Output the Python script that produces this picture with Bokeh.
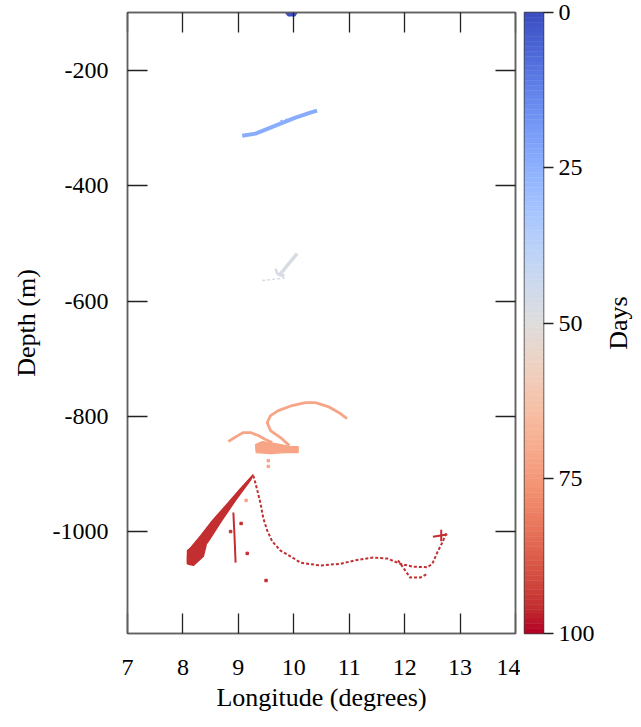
import numpy as np
from bokeh.plotting import figure
from bokeh.layouts import row
from bokeh.models import Range1d, LinearAxis, FixedTicker, LinearColorMapper, ColumnDataSource
from bokeh.transform import transform
from bokeh.embed import file_html
from bokeh.resources import INLINE

# ---------------- data ----------------
x_ticks = [7, 8, 9, 10, 11, 12, 13, 14]
y_ticks = [-1000, -800, -600, -400, -200]
cbar_ticks = [0, 25, 50, 75, 100]
day_values = [0, 24, 48, 72, 96]

# day 0 (surface blob)
lon_d0 = [9.85, 10.06, 10.02, 9.90]
dep_d0 = [-99, -99, -105, -105]

# day 24
lon_d24_band = [9.07, 9.31, 9.49, 9.76, 10.03, 10.30, 10.42]
dep_d24_band = [-312.8, -309.3, -302.4, -292.0, -281.6, -272.9, -269.4]
lon_d24_top = [9.76, 9.90, 10.08, 10.26]
dep_d24_top = [-287.0, -284.0, -280.0, -274.0]

# day 48
lon_d48_a = [10.06, 9.97, 9.88, 9.81, 9.74, 9.83]
dep_d48_a = [-517.6, -528.0, -538.4, -547.1, -554.0, -555.8]
lon_d48_hook = [9.67, 9.70, 9.77]
dep_d48_hook = [-543.6, -552.3, -555.8]
lon_d48_base = [9.43, 9.58, 9.72, 9.86]
dep_d48_base = [-564.4, -562.7, -561.0, -559.2]

# day 72
lon_d72_arch = [9.92, 9.76, 9.58, 9.52, 9.58, 9.72, 9.97, 10.21, 10.39, 10.62, 10.84, 10.96]
dep_d72_arch = [-850.8, -836.9, -824.7, -810.9, -798.7, -790.0, -781.3, -776.2, -776.2, -783.1, -795.2, -803.9]
lon_d72_left = [8.82, 8.96, 9.09, 9.22, 9.36, 9.49, 9.61]
dep_d72_left = [-843.8, -835.2, -828.2, -828.2, -833.4, -840.4, -845.6]
lon_d72_blob = [9.31, 9.43, 9.67, 9.94, 10.08, 10.08, 9.85, 9.58, 9.32]
dep_d72_blob = [-849.0, -843.8, -847.3, -852.5, -852.5, -862.9, -862.9, -864.7, -862.9]
lon_d72_dots = [9.54, 9.54, 9.14]
dep_d72_dots = [-877.0, -887.0, -946.0]

# day 96
lon_d96_band = [9.27, 9.04, 8.77, 8.53, 8.32, 8.14, 8.08, 8.08, 8.14, 8.24, 8.46, 8.68, 8.95, 9.22]
dep_d96_band = [-901, -925, -955, -981, -1007, -1028, -1042, -1056, -1058, -1045, -1017, -984, -946, -911]
lon_d96_mid = [9.25, 8.98, 8.71, 8.50, 8.28]
dep_d96_mid = [-906, -939, -971, -998, -1026]
lon_d96_blob = [8.08, 8.26, 8.42, 8.37, 8.19, 8.08]
dep_d96_blob = [-1033, -1019, -1024, -1043, -1059, -1056]
lon_d96_vert = [8.91, 8.93, 8.95]
dep_d96_vert = [-967, -1007, -1054]
lon_d96_curve = [9.27, 9.32, 9.40, 9.45, 9.52, 9.61, 9.76, 9.94, 10.12, 10.48, 10.84,
                 11.11, 11.43, 11.69, 11.92, 12.15, 12.41, 12.50, 12.59, 12.68, 12.75]
dep_d96_curve = [-903, -920, -951, -977, -998, -1017, -1033, -1043, -1054, -1059, -1056,
                 -1050, -1045, -1047, -1056, -1061, -1062, -1056, -1036, -1019, -1003]
lon_d96_loop = [11.88, 11.97, 12.10, 12.28, 12.42]
dep_d96_loop = [-1050, -1062, -1080, -1080, -1073]
lon_d96_cross_h = [12.51, 12.77]
dep_d96_cross_h = [-1009, -1005]
lon_d96_cross_v = [12.66, 12.66]
dep_d96_cross_v = [-997, -1017]
lon_d96_dots = [9.50, 9.05, 9.16, 8.86]
dep_d96_dots = [-1085, -986, -1038, -1000]

# coolwarm anchor colours (style)
cw = [(59,76,192),(68,90,204),(77,104,215),(87,117,225),(98,130,234),(108,142,241),
      (119,154,247),(130,165,251),(141,176,254),(152,185,255),(163,194,255),(174,201,253),
      (184,208,249),(194,213,244),(204,217,238),(213,219,230),(221,221,221),(229,216,209),
      (236,211,197),(241,204,185),(245,196,173),(247,187,160),(247,177,148),(247,166,135),
      (244,154,123),(241,141,111),(236,127,99),(229,112,88),(222,96,77),(213,80,66),
      (203,62,56),(192,40,47),(180,4,38)]
cwa = np.array(cw, dtype=float)
pos = np.linspace(0, 1, len(cw))
t = np.linspace(0, 1, 256)
palette = ["#%02x%02x%02x" % tuple(int(round(np.interp(v, pos, cwa[:, k]))) for k in range(3)) for v in t]
mapper = LinearColorMapper(palette=palette, low=0, high=100)

FONT = "Liberation Serif"
FS_TICK = "24px"
FS_LABEL = "26px"
FRAME = "#606060"
TICK = "#222222"
H = 727

# ---------------- main figure ----------------
p = figure(width=520, height=H, x_range=Range1d(7, 14), y_range=Range1d(-1177, -99),
           output_backend="svg", toolbar_location=None,
           min_border_left=127, min_border_right=5, min_border_top=12, min_border_bottom=H - 633)
p.grid.visible = False
p.outline_line_color = FRAME
p.outline_line_width = 1.5
p.background_fill_color = "white"

def style_axis(ax, ticks, show_labels):
    ax.ticker = FixedTicker(ticks=ticks)
    ax.major_tick_in = 20
    ax.major_tick_out = 0
    ax.minor_tick_line_color = None
    ax.axis_line_color = FRAME
    ax.axis_line_width = 1.5
    ax.major_tick_line_color = TICK
    ax.major_tick_line_width = 1.3
    ax.major_label_text_font = FONT
    ax.major_label_text_font_size = FS_TICK
    ax.major_label_text_color = "black"
    ax.axis_label_text_font = FONT
    ax.axis_label_text_font_size = FS_LABEL
    ax.axis_label_text_font_style = "normal"
    ax.axis_label_text_color = "black"
    if show_labels:
        ax.major_label_overrides = {v: str(v) for v in ticks}
    else:
        ax.major_label_overrides = {v: "" for v in ticks}
        ax.major_label_standoff = 0

xa = p.xaxis[0]
style_axis(xa, x_ticks, True)
xa.axis_label = "Longitude (degrees)"
xa.major_label_standoff = 26
xa.axis_label_standoff = 5

ya = p.yaxis[0]
style_axis(ya, y_ticks, True)
ya.axis_label = "Depth (m)"
ya.major_label_standoff = 19
ya.axis_label_standoff = 9

top_ax = LinearAxis()
style_axis(top_ax, x_ticks, False)
p.add_layout(top_ax, "above")
right_ax = LinearAxis()
style_axis(right_ax, y_ticks, False)
p.add_layout(right_ax, "right")

def lines(groups, width, dash="solid", alpha=1.0):
    src = ColumnDataSource(dict(xs=[g[0] for g in groups], ys=[g[1] for g in groups],
                                day=[g[2] for g in groups]))
    p.multi_line("xs", "ys", source=src, line_color=transform("day", mapper),
                 line_width=width, line_dash=dash, line_alpha=alpha)

def blobs(groups):
    src = ColumnDataSource(dict(xs=[g[0] for g in groups], ys=[g[1] for g in groups],
                                day=[g[2] for g in groups]))
    p.patches("xs", "ys", source=src, fill_color=transform("day", mapper),
              line_color=transform("day", mapper), line_width=1.2)

def dots(x, y, day):
    src = ColumnDataSource(dict(x=x, y=y, day=[day] * len(x)))
    p.scatter("x", "y", source=src, marker="square", size=2.5,
              color=transform("day", mapper))

d0, d24, d48, d72, d96 = day_values

blobs([(lon_d0, dep_d0, d0), (lon_d72_blob, dep_d72_blob, d72),
       (lon_d96_band, dep_d96_band, d96), (lon_d96_blob, dep_d96_blob, d96)])
lines([(lon_d96_mid, dep_d96_mid, d96)], 1.2, "solid", 0.35)
lines([(lon_d24_band, dep_d24_band, d24)], 4)
lines([(lon_d24_top, dep_d24_top, d24)], 1.5, "2 3")
lines([(lon_d48_a, dep_d48_a, d48)], 3.5)
lines([(lon_d48_hook, dep_d48_hook, d48)], 2.5)
lines([(lon_d48_base, dep_d48_base, d48)], 1.5, "3 2")
lines([(lon_d72_arch, dep_d72_arch, d72), (lon_d72_left, dep_d72_left, d72)], 2.8)
lines([(lon_d96_vert, dep_d96_vert, d96), (lon_d96_cross_h, dep_d96_cross_h, d96),
       (lon_d96_cross_v, dep_d96_cross_v, d96)], 2)
lines([(lon_d96_curve, dep_d96_curve, d96), (lon_d96_loop, dep_d96_loop, d96)], 2, "3 2")
dots(lon_d72_dots, dep_d72_dots, d72)
dots(lon_d96_dots, dep_d96_dots, d96)

# ---------------- colour bar ----------------
c = figure(width=80, height=H, x_range=Range1d(0, 1), y_range=Range1d(100, 0),
           output_backend="svg", toolbar_location=None,
           x_axis_location=None, y_axis_location="right",
           min_border_left=4, min_border_right=57, min_border_top=12, min_border_bottom=H - 633)
c.grid.visible = False
c.outline_line_color = "#404040"
c.outline_line_width = 1.5
levels = np.linspace(cbar_ticks[0], cbar_ticks[-1], 129)
csrc = ColumnDataSource(dict(bottom=levels[:-1], top=levels[1:],
                             mid=(levels[:-1] + levels[1:]) / 2))
c.quad(left=0, right=1, bottom="bottom", top="top", source=csrc,
       fill_color=transform("mid", mapper), line_color=transform("mid", mapper), line_width=0.5)
ca = c.yaxis[0]
ca.ticker = FixedTicker(ticks=cbar_ticks)
ca.major_label_overrides = {v: str(v) for v in cbar_ticks}
ca.major_tick_in = 0
ca.major_tick_out = 10
ca.minor_tick_line_color = None
ca.axis_line_color = None
ca.major_tick_line_color = TICK
ca.major_tick_line_width = 1.3
ca.major_label_standoff = 5
ca.major_label_text_font = FONT
ca.major_label_text_font_size = FS_TICK
ca.major_label_text_color = "black"

# ---------------- colour bar title ("Days", reading bottom to top) ----------------
d = figure(width=36, height=H, x_range=Range1d(0, 1), y_range=Range1d(100, 0),
           output_backend="svg", toolbar_location=None,
           x_axis_location=None, y_axis_location="left",
           min_border_left=0, min_border_right=0, min_border_top=12, min_border_bottom=H - 633)
d.grid.visible = False
d.outline_line_color = None
d.background_fill_color = None
d.border_fill_color = None
da = d.yaxis[0]
da.ticker = FixedTicker(ticks=[])
da.major_tick_in = 0
da.major_tick_out = 0
da.minor_tick_line_color = None
da.axis_line_color = None
da.major_label_standoff = 0
da.axis_label = "Days"
da.axis_label_standoff = 0
da.axis_label_text_font = FONT
da.axis_label_text_font_size = FS_LABEL
da.axis_label_text_font_style = "normal"
da.axis_label_text_color = "black"

layout = row(p, c, d)
open("out.html", "w").write(file_html(layout, INLINE))
